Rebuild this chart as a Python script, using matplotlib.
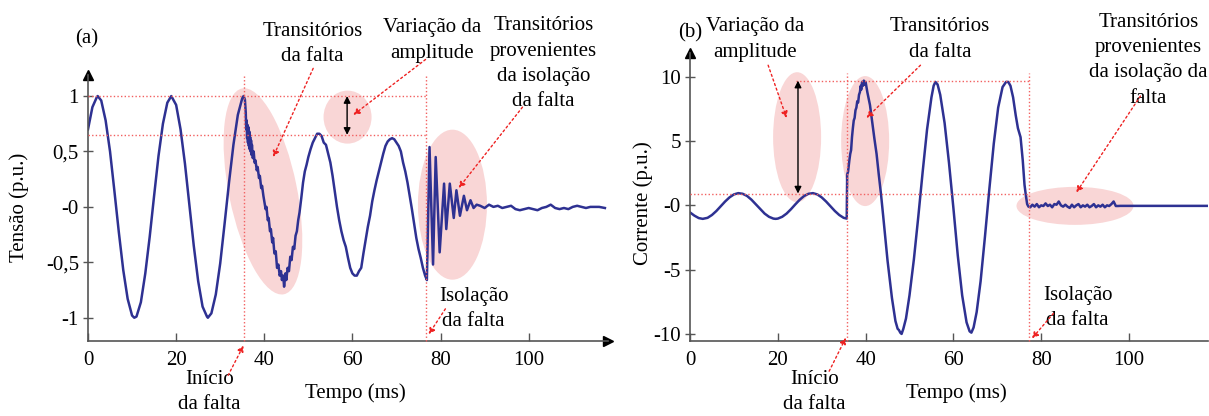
import matplotlib
matplotlib.use('Agg')
import matplotlib.pyplot as plt
from matplotlib.patches import Ellipse
from matplotlib.transforms import ScaledTranslation

plt.rcParams['font.family'] = ['Liberation Serif', 'DejaVu Serif']
plt.rcParams['font.size'] = 15

# ---- data --------------------------------------------------------------
# (a) tensao (p.u.) vs tempo (ms)
tens_t = [0, 1, 2, 2.2, 3, 4, 5, 6, 7, 8, 9, 10, 10.5, 11, 12, 13, 14, 15, 16, 17, 18, 18.9,
          20, 21, 22, 23, 24, 25, 26, 27, 27.2, 28, 29, 30, 31, 32, 33, 34, 35, 35.3,
          35.6, 35.8, 35.9, 36.0, 36.1, 36.2, 36.3, 36.4, 36.5, 36.6, 36.7, 36.8, 36.9, 37.0,
          37.1, 37.2, 37.4, 37.6, 37.8, 38.0, 38.3, 38.5, 38.8, 39.0, 39.3, 39.5, 39.8, 40.0,
          40.3, 40.5, 40.8, 41.0, 41.3, 41.5, 41.8, 42.0, 42.3, 42.6, 42.9, 43.2, 43.5, 43.8,
          44.0, 44.3, 44.5, 44.8, 45.0, 45.3, 45.6, 45.9, 46.2, 46.5, 46.8, 47.1, 47.4, 47.7,
          48.0, 48.4, 48.8, 49.2, 49.6, 50.0, 50.5, 51.0, 51.5, 52.0, 52.5, 53.0, 53.5, 54.0,
          54.5, 55.0, 55.5, 56.0, 56.5, 57.0, 57.5, 58.0, 58.5, 59.0, 59.5, 60.0, 60.5, 61.0,
          61.5, 62.0, 62.5, 63.0, 63.5, 64.0, 64.5, 65.0, 65.5, 66.0, 66.5, 67.0, 67.5, 68.0,
          68.5, 69.0, 69.5, 70.0, 70.5, 71.0, 71.5, 72.0, 72.5, 73.0, 73.5, 74.0, 74.5, 75.0,
          75.5, 76.0, 76.5, 76.9, 77.5, 78.3, 78.9, 79.8, 80.8, 81.3, 82.1, 83.0, 83.6, 84.4,
          85.3, 86.0, 86.8, 87.5, 88.2, 89, 90, 91, 92, 93, 94, 95, 96, 97, 98, 99, 100, 101,
          102, 103, 104, 105, 106, 107, 108, 109, 110, 111, 112, 113, 114, 115, 116, 117.3]
tens_v = [0.70, 0.90, 0.99, 1.0, 0.96, 0.78, 0.50, 0.14, -0.23, -0.57, -0.83, -0.98, -1.0, -0.99,
          -0.86, -0.60, -0.27, 0.10, 0.46, 0.75, 0.94, 1.0, 0.92, 0.70, 0.39, 0.02, -0.35, -0.67,
          -0.90, -0.99, -1.0, -0.96, -0.79, -0.51, -0.15, 0.22, 0.56, 0.83, 0.98, 1.0,
          0.97, 0.85, 0.70, 0.78, 0.62, 0.74, 0.58, 0.72, 0.55, 0.68, 0.52, 0.63, 0.50, 0.60,
          0.47, 0.56, 0.44, 0.50, 0.40, 0.42, 0.33, 0.36, 0.26, 0.28, 0.17, 0.19, 0.10, 0.05,
          -0.02, 0.00, -0.12, -0.10, -0.22, -0.20, -0.32, -0.28, -0.42, -0.40, -0.55, -0.52, -0.62, -0.58,
          -0.66, -0.62, -0.72, -0.60, -0.66, -0.55, -0.58, -0.45, -0.48, -0.36, -0.38, -0.26, -0.22, -0.12,
          -0.05, 0.08, 0.22, 0.32, 0.38, 0.45, 0.52, 0.58, 0.62, 0.66, 0.66, 0.64, 0.58, 0.56,
          0.48, 0.40, 0.28, 0.14, 0.00, -0.12, -0.22, -0.30, -0.36, -0.46, -0.55, -0.60, -0.62, -0.62,
          -0.58, -0.55, -0.42, -0.30, -0.18, -0.08, 0.05, 0.15, 0.24, 0.32, 0.40, 0.48, 0.55, 0.59,
          0.61, 0.62, 0.61, 0.58, 0.55, 0.50, 0.40, 0.32, 0.22, 0.10, -0.02, -0.15, -0.28, -0.38,
          -0.46, -0.55, -0.62, -0.66, 0.54, -0.52, 0.45, -0.41, 0.21, -0.20, 0.21, -0.10, 0.15, -0.08,
          0.10, -0.03, 0.06, -0.01, 0.02, 0.01, -0.01, 0.02, 0.0, 0.01, -0.01, 0.0, 0.01, -0.02, -0.03, -0.02, -0.01, -0.02,
          -0.03, -0.01, 0.0, 0.02, -0.01, -0.02, -0.01, -0.02, 0.0, 0.01, 0.0, -0.01, 0.0, 0.0, 0.0, -0.01]

# (b) corrente (p.u.) vs tempo (ms)
corr_t = [0, 1, 2, 2.9, 4, 5, 6, 7, 8, 9, 10, 11, 12, 13, 14, 15, 16, 17, 18, 19, 19.5, 20,
          21, 22, 23, 24, 25, 26, 27, 28, 29, 30, 31, 32, 33, 34, 35, 35.7,
          35.8, 36.0, 36.3, 36.5, 36.7, 36.9, 37.1, 37.3, 37.5, 37.7, 37.9, 38.1, 38.3, 38.5,
          38.7, 38.9, 39.0, 39.2, 39.4, 39.6, 39.8, 40.0, 40.2, 40.4, 40.7, 41.0, 41.3, 41.6,
          42.0, 42.5, 43.0, 43.5, 44.0, 45.0, 46.0, 46.8, 47.3, 47.6, 47.9, 48.2, 48.6, 49.2,
          50.0, 51.0, 52.0, 53.0, 54.0, 55.0, 55.5, 55.9, 56.4, 57.0, 58.0, 59.0, 60.0, 61.0,
          62.0, 63.0, 63.7, 64.1, 64.6, 65.3, 66.2, 67.2, 68.2, 69.2, 70.2, 71.2, 72.0, 72.5,
          73.0, 73.6, 74.2, 74.7, 75.3, 75.8, 76.2, 76.5, 76.8, 77.1, 77.5, 78.0, 78.5, 79.0,
          79.5, 80.0, 80.5, 81.0, 81.5, 82.0, 82.5, 83.0, 83.5, 84.0, 84.5, 85.0, 85.5, 86.0,
          86.5, 87.0, 87.5, 88.0, 88.5, 89.0, 89.5, 90.0, 90.5, 91.0, 91.5, 92.0, 92.5, 93.0,
          93.5, 94.0, 94.5, 95.0, 95.5, 96.0, 96.5, 97.0, 97.5, 98.0, 105.0, 118.0]
corr_v = [-0.55, -0.80, -0.99, -1.05, -0.97, -0.75, -0.44, -0.07, 0.30, 0.62, 0.85, 0.95, 0.90,
          0.73, 0.44, 0.08, -0.29, -0.64, -0.89, -1.03, -1.05, -1.03, -0.89, -0.64, -0.30, 0.08,
          0.44, 0.73, 0.90, 0.95, 0.85, 0.62, 0.30, -0.07, -0.44, -0.75, -0.97, -1.03,
          2.4, 2.6, 3.5, 4.0, 4.3, 5.3, 6.0, 6.6, 6.8, 7.4, 7.6, 8.1, 8.0, 8.6,
          8.8, 9.3, 9.0, 9.6, 9.3, 9.7, 9.4, 9.6, 9.2, 8.8, 8.3, 7.8, 7.0, 6.2,
          5.2, 4.0, 2.4, 0.9, -0.8, -4.3, -7.2, -9.0, -9.6, -9.7, -9.9, -10.0, -9.6, -8.8,
          -7.0, -4.2, -0.9, 2.6, 5.9, 8.4, 9.3, 9.6, 9.4, 8.6, 6.4, 3.3, -0.2, -3.9,
          -7.0, -9.1, -9.8, -9.9, -9.5, -8.3, -5.9, -2.4, 1.3, 4.8, 7.6, 9.2, 9.6, 9.6,
          9.3, 8.4, 7.0, 6.0, 5.3, 3.5, 1.6, 0.8, 0.1, -0.1, -0.15, 0.05, -0.1, 0.1,
          -0.15, 0.0, -0.05, 0.15, -0.05, 0.05, -0.15, 0.1, 0.05, 0.3, 0.0, -0.1, 0.05, -0.1,
          -0.2, 0.05, -0.15, 0.0, 0.1, -0.15, 0.0, -0.1, 0.05, -0.15, -0.05, 0.1, -0.15, 0.0,
          -0.1, 0.05, -0.15, 0.0, -0.05, 0.1, 0.3, -0.05, -0.05, -0.04, -0.04, -0.04]

tens_ticks = [-1, -0.5, 0, 0.5, 1]
tens_ticklabels = ['-1', '-0,5', '-0', '0,5', '1']
corr_ticks = [-10, -5, 0, 5, 10]
corr_ticklabels = ['-10', '-5', '-0', '5', '10']
x_ticks = [0, 20, 40, 60, 80, 100]

# event times (ms) and amplitude levels
tens_fault, tens_iso = 35.3, 76.8
tens_levels = [1.0, 0.65]
corr_fault, corr_iso = 35.8, 77.3
corr_levels = [9.7, 0.92]

blue = '#2e3192'
pink = '#f9d6d6'
red_dot = '#f26060'
red_arr = '#ee2222'
gray = '#555555'

fig = plt.figure(figsize=(12.09, 4.16), dpi=100)
axa = fig.add_axes([88 / 1209, 1 - 341 / 416, 520 / 1209, 266 / 416])
axb = fig.add_axes([690 / 1209, 1 - 341 / 416, 518 / 1209, 288 / 416])


def style(ax, ylim, yt, ytl, ylabel, ylab_x, ylab_y, xlab_y, xarrow):
    ax.set_xlim(0, 118)
    ax.set_ylim(*ylim)
    for s in ['top', 'right']:
        ax.spines[s].set_visible(False)
    for s in ['left', 'bottom']:
        ax.spines[s].set_color(gray)
        ax.spines[s].set_linewidth(1.2)
    ax.set_xticks(x_ticks)
    ax.set_yticks(yt, ytl)
    ax.tick_params(axis='x', direction='in', length=6, width=1, color=gray, pad=7)
    ax.tick_params(axis='y', direction='inout', length=7, width=1, color=gray, pad=3)
    ax.set_xlabel('Tempo (ms)', va='center')
    ax.xaxis.set_label_coords(0.515, xlab_y)
    ax.set_ylabel(ylabel, va='center')
    ax.yaxis.set_label_coords(ylab_x, ylab_y)
    ax.plot(0, 1, '^k', ms=7, transform=ax.transAxes, clip_on=False)
    if xarrow:
        ax.plot(1, 0, '>k', ms=7, transform=ax.transAxes, clip_on=False)


def ellipse(ax, cx, cy, w_px, h_px, ang=0):
    tr = fig.dpi_scale_trans + ScaledTranslation(cx, cy, ax.transData)
    ax.add_patch(Ellipse((0, 0), w_px / 100, h_px / 100, angle=ang, transform=tr,
                         facecolor=pink, edgecolor='none', zorder=1, clip_on=False))


def red_arrow(ax, tail, head):
    ax.annotate('', xy=head, xytext=tail, annotation_clip=False,
                arrowprops=dict(arrowstyle='-|>', color=red_arr, lw=1.0, ls=(0, (1.5, 2)),
                                mutation_scale=9, shrinkA=0, shrinkB=0))


def dbl_arrow(ax, x, y0, y1):
    ax.annotate('', xy=(x, y0), xytext=(x, y1),
                arrowprops=dict(arrowstyle='<|-|>', color='black', lw=1.0,
                                mutation_scale=10, shrinkA=0, shrinkB=0), zorder=4)


def dotted(ax, xs, ys):
    ax.plot(xs, ys, color=red_dot, lw=1.0, ls=(0, (1, 1.6)), zorder=3, clip_on=False)


def label(ax, x, y, s):
    ax.text(x, y, s, ha='center', va='center', multialignment='center',
            linespacing=1.45, clip_on=False)


# ---- (a) tensao -------------------------------------------------------
ax = axa
style(ax, (-1.21, 1.19), tens_ticks, tens_ticklabels, 'Tensão (p.u.)',
      -0.133, 0.504, -0.195, True)
ellipse(ax, 39.7, 0.14, 68, 210, 11.5)
ellipse(ax, 58.9, 0.81, 48, 53)
ellipse(ax, 82.7, 0.02, 69, 150)
for lv in tens_levels:
    dotted(ax, [0, tens_iso], [lv, lv])
dotted(ax, [tens_fault, tens_fault], [-1.21, 1.2])
dotted(ax, [tens_iso, tens_iso], [-1.21, 1.2])
ax.plot(tens_t, tens_v, color=blue, lw=1.8, zorder=2)
dbl_arrow(ax, 58.8, tens_levels[1], tens_levels[0])

label(ax, -0.3, 1.52, '(a)')
label(ax, 50.9, 1.47, 'Transitórios\nda falta')
label(ax, 78.0, 1.50, 'Variação da\namplitude')
label(ax, 103.4, 1.29, 'Transitórios\nprovenientes\nda isolação\nda falta')
label(ax, 87.5, -0.92, 'Isolação\nda falta')
label(ax, 27.6, -1.67, 'Início\nda falta')
red_arrow(ax, (51.1, 1.25), (42.0, 0.45))
red_arrow(ax, (76.6, 1.33), (60.2, 0.83))
red_arrow(ax, (98.6, 0.9), (84.1, 0.17))
red_arrow(ax, (81.1, -0.92), (77.3, -1.15))
red_arrow(ax, (31.8, -1.52), (35.3, -1.25))

# ---- (b) corrente -----------------------------------------------------
ax = axb
style(ax, (-10.55, 11.85), corr_ticks, corr_ticklabels, 'Corrente (p.u.)',
      -0.091, 0.479, -0.18, False)
ellipse(ax, 24.4, 5.3, 48, 130)
ellipse(ax, 39.9, 5.0, 48, 130)
ellipse(ax, 87.7, -0.04, 117, 38)
dotted(ax, [24.2, corr_iso], [corr_levels[0], corr_levels[0]])
dotted(ax, [0, corr_iso], [corr_levels[1], corr_levels[1]])
dotted(ax, [corr_fault, corr_fault], [-10.55, 10.3])
dotted(ax, [corr_iso, corr_iso], [-10.55, 10.3])
ax.plot(corr_t, corr_v, color=blue, lw=1.8, zorder=2)
dbl_arrow(ax, 24.6, corr_levels[1], corr_levels[0])

label(ax, 0.0, 13.4, '(b)')
label(ax, 14.8, 12.9, 'Variação da\namplitude')
label(ax, 57.0, 12.9, 'Transitórios\nda falta')
label(ax, 104.4, 11.3, 'Transitórios\nprovenientes\nda isolação da\nfalta')
label(ax, 88.3, -8.0, 'Isolação\nda falta')
label(ax, 28.3, -14.5, 'Início\nda falta')
red_arrow(ax, (17.8, 10.9), (22.0, 6.8))
red_arrow(ax, (52.5, 10.9), (40.2, 6.8))
red_arrow(ax, (102.6, 8.5), (88.0, 1.0))
red_arrow(ax, (82.8, -8.4), (77.9, -10.35))
red_arrow(ax, (31.7, -12.9), (35.5, -10.3))

fig.savefig('out.png', dpi=100)
